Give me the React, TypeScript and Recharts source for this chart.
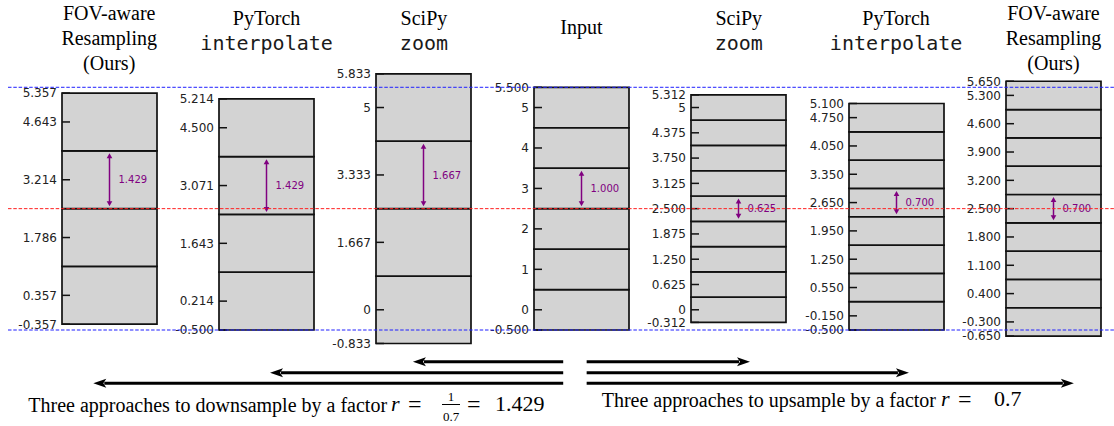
import React from "react";
import { BarChart, Bar, XAxis, YAxis, ReferenceLine, ComposedChart } from "recharts";

const FIG_W = 1114;
const FIG_H = 426;
// every panel uses the same vertical scale, so one shared domain
const Y_DOMAIN: [number, number] = [-2.873, 7.658];

const BOX_W = 95;
const AXIS_W = 56;
const FIRST_BOX_LEFT = 61.7;
const PANEL_STEP = 157.38;

const GRAY = "#d3d3d3";
const PURPLE = "#800080";

// titles above the panels ("interpolate" / "zoom" are code, set in mono)
const panelTitles = [
  ["FOV-aware", "Resampling", "(Ours)"],
  ["PyTorch", "interpolate"],
  ["SciPy", "zoom"],
  ["Input"],
  ["SciPy", "zoom"],
  ["PyTorch", "interpolate"],
  ["FOV-aware", "Resampling", "(Ours)"],
];
const monoWords = ["interpolate", "zoom"];

// cell boundaries of each panel
const fovDownEdges = [-0.357, 1.071, 2.5, 3.929, 5.357];
const torchDownEdges = [-0.5, 0.929, 2.357, 3.786, 5.214];
const scipyDownEdges = [-0.833, 0.833, 2.5, 4.167, 5.833];
const inputEdges = [-0.5, 0.5, 1.5, 2.5, 3.5, 4.5, 5.5];
const scipyUpEdges = [-0.3125, 0.3125, 0.9375, 1.5625, 2.1875, 2.8125, 3.4375, 4.0625, 4.6875, 5.3125];
const torchUpEdges = [-0.5, 0.2, 0.9, 1.6, 2.3, 3.0, 3.7, 4.4, 5.1];
const fovUpEdges = [-0.65, 0.05, 0.75, 1.45, 2.15, 2.85, 3.55, 4.25, 4.95, 5.65];
const panelEdges = [fovDownEdges, torchDownEdges, scipyDownEdges, inputEdges, scipyUpEdges, torchUpEdges, fovUpEdges];

// tick labels as printed beside each panel
const fovDownTicks = ["-0.357", "0.357", "1.786", "3.214", "4.643", "5.357"];
const torchDownTicks = ["-0.500", "0.214", "1.643", "3.071", "4.500", "5.214"];
const scipyDownTicks = ["-0.833", "0", "1.667", "3.333", "5", "5.833"];
const inputTicks = ["-0.500", "0", "1", "2", "3", "4", "5", "5.500"];
const scipyUpTicks = ["-0.312", "0", "0.625", "1.250", "1.875", "2.500", "3.125", "3.750", "4.375", "5", "5.312"];
const torchUpTicks = ["-0.500", "-0.150", "0.550", "1.250", "1.950", "2.650", "3.350", "4.050", "4.750", "5.100"];
const fovUpTicks = ["-0.650", "-0.300", "0.400", "1.100", "1.800", "2.500", "3.200", "3.900", "4.600", "5.300", "5.650"];
const panelTicks = [fovDownTicks, torchDownTicks, scipyDownTicks, inputTicks, scipyUpTicks, torchUpTicks, fovUpTicks];

// purple spacing arrow in each panel
const spacingFrom = [2.5, 2.357, 2.5, 2.5, 2.1875, 2.3, 2.15];
const spacingTo = [3.929, 3.786, 4.167, 3.5, 2.8125, 3.0, 2.85];
const spacingLabels = ["1.429", "1.429", "1.667", "1.000", "0.625", "0.700", "0.700"];

// dashed guides across the whole figure
const guideLevels = [5.5, 2.5, -0.5];
const guideColors = ["#1f1fff", "#ff2020", "#1f1fff"];

// big black arrows below the panels; x in panel units (0 = centre of first panel)
const X_DOMAIN: [number, number] = [-0.643, 6.385];
const arrowFrom = [2.885, 2.885, 2.885, 3.034, 3.034, 3.034];
const arrowTo = [1.93, 1.022, -0.101, 4.072, 5.082, 6.13];
const arrowLevel = [-1.284, -1.556, -1.818, -1.284, -1.556, -1.818];

const spacingShape = (label: string) => (props: any) => {
  const { x1, y1, y2 } = props;
  const top = Math.min(y1, y2) + 2.5;
  const bottom = Math.max(y1, y2) - 2.5;
  const head = 5;
  const half = 2.8;
  return (
    <g>
      <line x1={x1} x2={x1} y1={top + head - 1} y2={bottom - head + 1} stroke={PURPLE} strokeWidth={1.5} />
      <polygon points={`${x1},${top} ${x1 - half},${top + head} ${x1 + half},${top + head}`} fill={PURPLE} />
      <polygon points={`${x1},${bottom} ${x1 - half},${bottom - head} ${x1 + half},${bottom - head}`} fill={PURPLE} />
      <text x={x1 + 9} y={(top + bottom) / 2} dy="0.36em" fontSize={10} fontFamily="DejaVu Sans" fill={PURPLE}>
        {label}
      </text>
    </g>
  );
};

function BigArrow(props: any) {
  const { x1, y1, x2 } = props;
  const dir = x2 > x1 ? 1 : -1;
  const headLen = 13;
  const half = 4.5;
  const base = x2 - dir * headLen;
  return (
    <g>
      <line x1={x1} y1={y1} x2={base + dir * 2} y2={y1} stroke="#000" strokeWidth={3} />
      <polygon points={`${x2},${y1} ${base},${y1 - half} ${base + dir * 3},${y1} ${base},${y1 + half}`} fill="#000" />
    </g>
  );
}

function Panel({ index }: { index: number }) {
  const edges = panelEdges[index];
  const labels = panelTicks[index];
  const tickValues = labels.map(Number);
  const row: Record<string, number | string> = { name: "grid", base: edges[0] };
  const cellKeys = edges.slice(1).map((_, k) => `cell${k}`);
  cellKeys.forEach((key, k) => {
    row[key] = edges[k + 1] - edges[k];
  });
  const boxLeft = FIRST_BOX_LEFT + index * PANEL_STEP;

  const renderTick = (props: any) => {
    const { x, y, payload } = props;
    let best = 0;
    tickValues.forEach((v, i) => {
      if (Math.abs(v - payload.value) < Math.abs(tickValues[best] - payload.value)) best = i;
    });
    return (
      <g>
        <line x1={x + 5} x2={x + 13} y1={y} y2={y} stroke="#111" strokeWidth={1.5} />
        <text x={x} y={y} dy="0.36em" textAnchor="end" fontSize={12} fontFamily="DejaVu Sans" fill="#222">
          {labels[best]}
        </text>
      </g>
    );
  };

  return (
    <div style={{ position: "absolute", left: boxLeft - AXIS_W, top: 0 }}>
      <BarChart
        width={AXIS_W + BOX_W + 4}
        height={FIG_H}
        data={[row]}
        margin={{ top: 0, right: 4, bottom: 0, left: 0 }}
        barCategoryGap={0}
        barGap={0}
      >
        <Bar dataKey="base" stackId="grid" fill="none" isAnimationActive={false} />
        {cellKeys.map((key) => (
          <Bar key={key} dataKey={key} stackId="grid" fill={GRAY} stroke="#111" strokeWidth={1.7} isAnimationActive={false} />
        ))}
        <XAxis dataKey="name" hide />
        <YAxis
          type="number"
          domain={Y_DOMAIN}
          ticks={tickValues}
          interval={0}
          width={AXIS_W}
          tickSize={0}
          tickMargin={5}
          axisLine={false}
          tickLine={false}
          tick={renderTick}
        />
        <ReferenceLine
          segment={[{ x: "grid", y: spacingFrom[index] }, { x: "grid", y: spacingTo[index] }]}
          shape={spacingShape(spacingLabels[index])}
        />
      </BarChart>
    </div>
  );
}

function Title({ index }: { index: number }) {
  const lines = panelTitles[index];
  const center = FIRST_BOX_LEFT + index * PANEL_STEP + BOX_W / 2;
  const top = lines.length === 3 ? 1.3 : lines.length === 2 ? 6.3 : 14.5;
  return (
    <div style={{ position: "absolute", left: center - 80, width: 160, top, textAlign: "center" }}>
      {lines.map((line, i) => {
        const mono = monoWords.includes(line);
        return (
          <div
            key={i}
            style={{
              height: 25,
              lineHeight: "25px",
              fontSize: 20,
              whiteSpace: "nowrap",
              color: mono ? "#1a1a1a" : "#000",
              fontFamily: mono ? "DejaVu Sans Mono" : "Liberation Serif",
            }}
          >
            {line}
          </div>
        );
      })}
    </div>
  );
}

function Txt(props: { x: number; base: number; size: number; italic?: boolean; w?: number; children: React.ReactNode }) {
  const { x, base, size, italic, w, children } = props;
  return (
    <div
      style={{
        position: "absolute",
        left: x,
        top: base - 0.8375 * size,
        width: w,
        textAlign: w ? "center" : "left",
        fontFamily: "Liberation Serif",
        fontSize: size,
        lineHeight: `${size}px`,
        fontStyle: italic ? "italic" : "normal",
        whiteSpace: "nowrap",
        color: "#000",
      }}
    >
      {children}
    </div>
  );
}

function Overlay() {
  return (
    <ComposedChart width={FIG_W} height={FIG_H} margin={{ top: 0, right: 0, bottom: 0, left: 8 }}>
      <XAxis type="number" dataKey="x" domain={X_DOMAIN} hide allowDataOverflow />
      <YAxis type="number" domain={Y_DOMAIN} hide allowDataOverflow />
      {guideLevels.map((v, i) => (
        <ReferenceLine key={`g${i}`} y={v} stroke={guideColors[i]} strokeWidth={1} strokeDasharray="3.5 1.8" />
      ))}
      {arrowFrom.map((f, i) => (
        <ReferenceLine
          key={`a${i}`}
          segment={[{ x: f, y: arrowLevel[i] }, { x: arrowTo[i], y: arrowLevel[i] }]}
          shape={BigArrow}
        />
      ))}
    </ComposedChart>
  );
}

export default function App() {
  return (
    <div style={{ position: "absolute", left: 0, top: 0, width: FIG_W, height: FIG_H, background: "#fff", overflow: "hidden" }}>
      {panelEdges.map((_, i) => (
        <Panel key={i} index={i} />
      ))}
      {panelTitles.map((_, i) => (
        <Title key={i} index={i} />
      ))}
      <div style={{ position: "absolute", left: 0, top: 0, pointerEvents: "none" }}>
        <Overlay />
      </div>

      <Txt x={28.3} base={411.7} size={20}>Three approaches to downsample by a factor</Txt>
      <Txt x={391} base={411.7} size={22} italic>r</Txt>
      <Txt x={408} base={411.7} size={24}>=</Txt>
      <Txt x={441} base={401} size={13} w={20}>1</Txt>
      <div style={{ position: "absolute", left: 442, top: 403.5, width: 18, height: 1, background: "#000" }} />
      <Txt x={441} base={421} size={13} w={20}>0.7</Txt>
      <Txt x={467} base={411.7} size={24}>=</Txt>
      <Txt x={495} base={411.7} size={22}>1.429</Txt>

      <Txt x={601.7} base={406.7} size={20}>Three approaches to upsample by a factor</Txt>
      <Txt x={941} base={406.7} size={22} italic>r</Txt>
      <Txt x={958} base={406.7} size={24}>=</Txt>
      <Txt x={994} base={406.7} size={22}>0.7</Txt>
    </div>
  );
}
